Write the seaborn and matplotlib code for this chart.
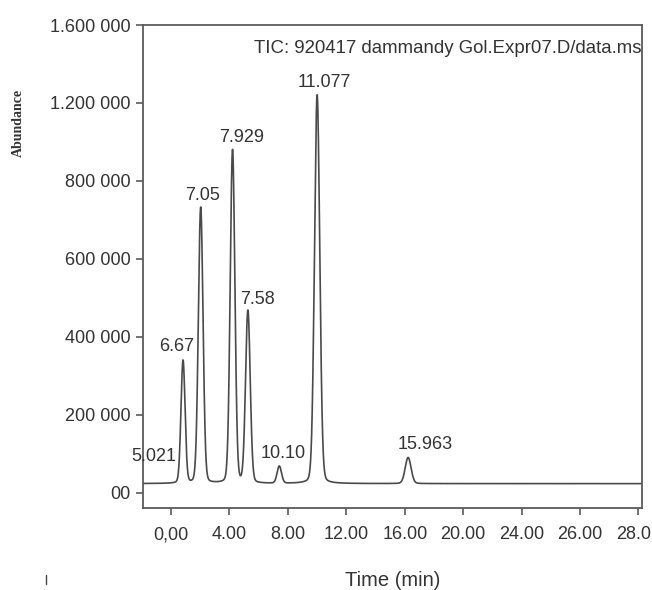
import numpy as np
import pandas as pd
import seaborn as sns
import matplotlib
matplotlib.use("Agg")
import matplotlib.pyplot as plt
from matplotlib.lines import Line2D
from matplotlib.transforms import ScaledTranslation

# ---- chromatogram data -------------------------------------------------
peak_labels = ["6.67", "7.05", "7.929", "7.58", "10.10", "11.077", "15.963"]
peak_times = [0.82, 2.03, 4.21, 5.26, 7.41, 10.0, 16.23]
peak_heights = [315000, 708000, 855000, 442000, 44000, 997000, 67000]
peak_widths = [0.14, 0.16, 0.16, 0.16, 0.15, 0.18, 0.20]
baseline_level = 24000
start_label = "5.021"

x_tick_labels = ["0,00", "4.00", "8.00", "12.00", "16.00", "20.00", "24.00", "26.00", "28.0"]
y_tick_labels = ["00", "200 000", "400 000", "600 000", "800 000", "1.200 000", "1.600 000"]
title_text = "TIC: 920417 dammandy Gol.Expr07.D/data.ms"

# ---- build the trace from the peak table ------------------------------
x_min, x_max = -1.92, 32.24
t = np.linspace(x_min, x_max, 6000)
signal = np.full_like(t, baseline_level, dtype=float)
for mu, h, s in zip(peak_times, peak_heights, peak_widths):
    gauss = np.exp(-0.5 * ((t - mu) / s) ** 2)
    lor = 1.0 / (1.0 + ((t - mu) / (1.18 * s)) ** 2)
    signal += h * (0.9 * gauss + 0.1 * lor)
trace = pd.DataFrame({"time": t, "abundance": signal})

# ---- figure -----------------------------------------------------------
sns.set_theme(style="ticks")
plt.rcParams["font.family"] = ["Liberation Sans", "DejaVu Sans"]

fig = plt.figure(figsize=(6.52, 5.90), dpi=100)
ax = fig.add_axes([143 / 652, 1 - 508 / 590, (642 - 143) / 652, (508 - 25) / 590])

line_color = "#4a4a4a"
sns.lineplot(data=trace, x="time", y="abundance", ax=ax, color=line_color,
             linewidth=1.2, estimator=None, sort=False)

ax.set_xlim(x_min, x_max)
ax.set_ylim(-38500, 1200000)

ax.set_xticks(np.arange(len(x_tick_labels)) * 4)
ax.set_xticklabels(x_tick_labels)
ax.set_yticks(np.arange(len(y_tick_labels)) * 200000)
ax.set_yticklabels(y_tick_labels)

for side in ["left", "right", "top", "bottom"]:
    ax.spines[side].set_visible(True)
    ax.spines[side].set_color("#5a5a5a")
    ax.spines[side].set_linewidth(1.3)

ax.tick_params(axis="both", direction="out", length=5, width=1.2, color="#5a5a5a",
               labelsize=13, labelcolor="#333333", pad=4)
ax.tick_params(axis="x", pad=8)

# nudge the last time label left so it stays inside the canvas
last = ax.get_xticklabels()[-1]
last.set_transform(last.get_transform() + ScaledTranslation(-5 / 100, 0, fig.dpi_scale_trans))

ax.set_xlabel("Time (min)", fontsize=14.5, color="#333333", labelpad=20)
ax.set_ylabel("")

# peak annotations (pixel offsets from each apex)
label_offsets = [(-6, 14), (2, 12), (9, 13), (10, 12), (4, 13), (7, 12), (17, 13)]
for lab, mu, h, (dx, dy) in zip(peak_labels, peak_times, peak_heights, label_offsets):
    top = baseline_level + h
    ax.annotate(lab, xy=(mu, top), xytext=(dx, dy), textcoords="offset pixels",
                ha="center", va="center", fontsize=13, color="#333333")

ax.annotate(start_label, xy=(x_min, baseline_level), xytext=(11, 27),
            textcoords="offset pixels", ha="center", va="center",
            fontsize=13, color="#333333", annotation_clip=False)

ax.text(0.999, 0.952, title_text, transform=ax.transAxes, ha="right", va="center",
        fontsize=13.4, color="#333333")

fig.text(18 / 652, 1 - 123 / 590, "Abundance", rotation=90, ha="center", va="center",
         fontsize=10, fontweight="bold", family=["Liberation Serif", "DejaVu Serif"],
         color="#333333")

fig.add_artist(Line2D([46 / 652, 46 / 652], [1 - 584 / 590, 1 - 575 / 590],
                      transform=fig.transFigure, color="#444444", linewidth=1.0))

fig.savefig("out.png", dpi=100)
